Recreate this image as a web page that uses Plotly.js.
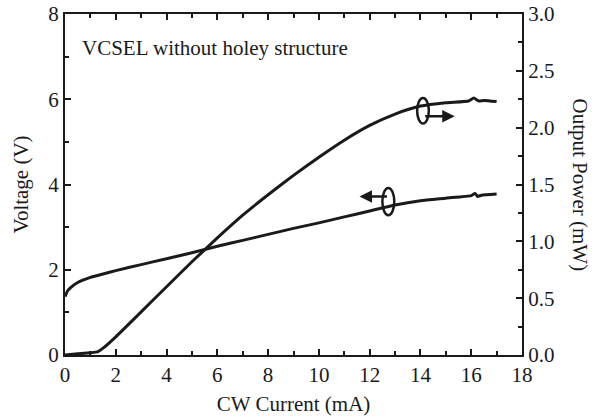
<!DOCTYPE html>
<html>
<head>
<meta charset="utf-8">
<script src="https://cdn.plot.ly/plotly-3.0.1.min.js"></script>
<style>html,body{margin:0;padding:0;background:#fff;}#chart{width:593px;height:419px;}</style>
</head>
<body>
<div id="chart"></div>
<script>
// CW current (mA) for the voltage curve
const currentV = [0, 0.1, 0.2, 0.5, 1, 1.5, 2, 3, 4, 5, 6, 7, 8, 9, 10, 11, 12, 13, 14, 15, 16, 16.15, 16.25, 16.4, 17];
// Voltage (V)
const voltage = [1.37, 1.5, 1.57, 1.7, 1.82, 1.9, 1.98, 2.12, 2.26, 2.4, 2.55, 2.69, 2.83, 2.97, 3.1, 3.24, 3.38, 3.52, 3.62, 3.68, 3.74, 3.79, 3.72, 3.75, 3.78];
// CW current (mA) for the output power curve
const currentP = [0, 0.5, 1.0, 1.3, 1.5, 2, 3, 4, 5, 6, 7, 8, 9, 10, 11, 12, 13, 14, 15, 15.9, 16.1, 16.3, 16.5, 17];
// Output power (mW)
const power = [0.0, 0.01, 0.02, 0.03, 0.06, 0.16, 0.38, 0.60, 0.82, 1.03, 1.23, 1.41, 1.58, 1.74, 1.89, 2.02, 2.12, 2.19, 2.22, 2.235, 2.26, 2.235, 2.24, 2.23];

const xTicks = [0, 2, 4, 6, 8, 10, 12, 14, 16, 18];
const yTicks = [0, 2, 4, 6, 8];
const y2Ticks = [0, 0.5, 1.0, 1.5, 2.0, 2.5, 3.0];

const FONT = 'Liberation Serif, Times New Roman, serif';
const INK = '#1a1a1a';
const FS = 21;

const traces = [
  {x: currentV, y: voltage, type: 'scatter', mode: 'lines', line: {color: INK, width: 3, shape: 'spline', smoothing: 0.5}, yaxis: 'y', hoverinfo: 'skip'},
  {x: currentP, y: power, type: 'scatter', mode: 'lines', line: {color: INK, width: 3, shape: 'spline', smoothing: 0.5}, yaxis: 'y2', hoverinfo: 'skip'}
];

const axisCommon = {
  showgrid: false, zeroline: false, showline: true, linecolor: INK, linewidth: 2,
  ticks: 'inside', ticklen: 6, tickwidth: 2, tickcolor: INK,
  tickfont: {family: FONT, size: FS, color: INK}
};

const layout = {
  width: 593, height: 419,
  margin: {l: 65, r: 71, t: 14, b: 64},
  paper_bgcolor: '#fff', plot_bgcolor: '#fff',
  showlegend: false,
  font: {family: FONT, color: INK},
  xaxis: Object.assign({}, axisCommon, {
    range: [0, 18], tickvals: xTicks, mirror: 'ticks',
    minor: {dtick: 1, ticks: 'inside', ticklen: 4, tickwidth: 2, tickcolor: INK},
    title: {text: 'CW Current (mA)', font: {family: FONT, size: FS, color: INK}, standoff: 10}
  }),
  yaxis: Object.assign({}, axisCommon, {
    range: [0, 8], tickvals: yTicks,
    minor: {dtick: 1, ticks: 'inside', ticklen: 4, tickwidth: 2, tickcolor: INK},
    title: {text: 'Voltage (V)', font: {family: FONT, size: FS, color: INK}, standoff: 14}
  }),
  yaxis2: Object.assign({}, axisCommon, {
    range: [0, 3], tickvals: y2Ticks, tickformat: '.1f', overlaying: 'y', side: 'right',
    minor: {dtick: 0.25, ticks: 'inside', ticklen: 4, tickwidth: 2, tickcolor: INK}
  }),
  shapes: [
    {type: 'circle', xref: 'x', yref: 'y', x0: 13.87, x1: 14.33, y0: 5.43, y1: 6.03, line: {color: INK, width: 2.5}},
    {type: 'circle', xref: 'x', yref: 'y', x0: 12.5, x1: 12.97, y0: 3.28, y1: 3.92, line: {color: INK, width: 2.5}}
  ],
  annotations: [
    {text: 'VCSEL without holey structure', xref: 'paper', yref: 'paper', x: 0.033, y: 0.9, xanchor: 'left', yanchor: 'middle', showarrow: false, font: {family: FONT, size: FS, color: INK}},
    {text: 'Output Power (mW)', xref: 'paper', yref: 'paper', x: 1, xshift: 58, y: 0.5, textangle: 90, showarrow: false, xanchor: 'center', yanchor: 'middle', font: {family: FONT, size: FS, color: INK}},
    {x: 15.35, y: 5.6, xref: 'x', yref: 'y', ax: -31, ay: 0, text: '', showarrow: true, arrowhead: 2, arrowsize: 1, arrowwidth: 2.5, arrowcolor: INK},
    {x: 11.6, y: 3.72, xref: 'x', yref: 'y', ax: 29, ay: 0, text: '', showarrow: true, arrowhead: 2, arrowsize: 1, arrowwidth: 2.5, arrowcolor: INK}
  ]
};

Plotly.newPlot('chart', traces, layout, {displayModeBar: false, staticPlot: true});
</script>
</body>
</html>
